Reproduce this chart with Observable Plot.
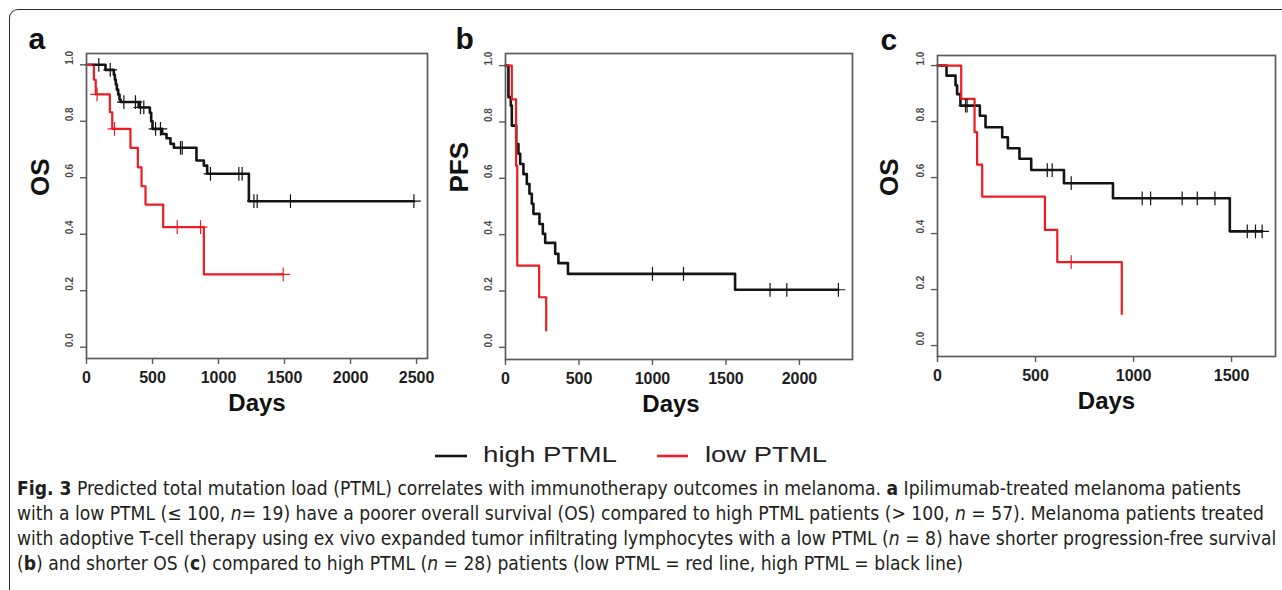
<!DOCTYPE html>
<html><head><meta charset="utf-8">
<script src="https://cdn.jsdelivr.net/npm/d3@7"></script>
<script src="https://cdn.jsdelivr.net/npm/@observablehq/plot@0.6"></script>
<style>
html,body{margin:0;padding:0;background:#fff;}
#root{position:relative;width:1282px;height:590px;overflow:hidden;font-family:"Liberation Sans",Arial,sans-serif;}
.panel{position:absolute;top:0;}
#border{position:absolute;left:9px;top:9px;width:1400px;height:700px;border-top:1.6px solid #2b2b2b;border-left:1.6px solid #2b2b2b;border-top-left-radius:9px;}
#legend,#caption{position:absolute;left:0;}
#caption text{white-space:pre;}
</style></head>
<body><div id="root"><div id="border"></div></div>
<script>
// ---------- data ----------
const yTicks = [0, 0.2, 0.4, 0.6, 0.8, 1.0];

// Panel a (ipilimumab, OS)
const aTicks = [0, 500, 1000, 1500, 2000, 2500];
const aHighT = [0, 144, 207, 215, 222, 230, 240, 250, 258, 396, 480, 490, 500, 573, 606, 636, 662, 833, 889, 914, 1230, 2480];
const aHighS = [1.0, 0.982, 0.965, 0.947, 0.93, 0.912, 0.895, 0.877, 0.868, 0.849, 0.83, 0.80, 0.773, 0.755, 0.74, 0.72, 0.706, 0.661, 0.643, 0.614, 0.517, 0.517];
const aHighCensT = [93, 180, 283, 371, 409, 434, 523, 560, 712, 725, 939, 1154, 1179, 1268, 1293, 1545, 2480];
const aHighCensS = [1.0, 0.982, 0.868, 0.868, 0.849, 0.849, 0.773, 0.773, 0.706, 0.706, 0.614, 0.614, 0.614, 0.517, 0.517, 0.517, 0.517];
const aLowT = [0, 56, 70, 177, 195, 333, 389, 417, 447, 581, 889, 1490];
const aLowS = [1.0, 0.947, 0.895, 0.832, 0.773, 0.706, 0.637, 0.57, 0.505, 0.425, 0.258, 0.258];
const aLowCensT = [80, 212, 687, 864, 1490];
const aLowCensS = [0.895, 0.773, 0.425, 0.425, 0.258];

// Panel b (TIL, PFS)
const bTicks = [0, 500, 1000, 1500, 2000];
const bHighT = [0, 20, 36, 43, 73, 88, 100, 122, 145, 163, 179, 190, 231, 254, 270, 338, 360, 425, 1562, 2265];
const bHighS = [1.0, 0.888, 0.858, 0.787, 0.722, 0.687, 0.651, 0.615, 0.58, 0.545, 0.51, 0.474, 0.438, 0.403, 0.371, 0.332, 0.299, 0.261, 0.2045, 0.2045];
const bHighCensT = [1000, 1211, 1800, 1914, 2265];
const bHighCensS = [0.261, 0.261, 0.2045, 0.2045, 0.2045];
const bLowT = [0, 43, 72, 80, 229, 277];
const bLowS = [1.0, 0.88, 0.645, 0.29, 0.178, 0.06];
const bLowCensT = [];
const bLowCensS = [];

// Panel c (TIL, OS)
const cTicks = [0, 500, 1000, 1500];
const cHighT = [0, 46, 92, 100, 117, 216, 245, 330, 359, 418, 478, 645, 895, 1491, 1656];
const cHighS = [1.0, 0.964, 0.93, 0.898, 0.857, 0.821, 0.78, 0.744, 0.705, 0.667, 0.627, 0.58, 0.526, 0.408, 0.408];
const cHighCensT = [143, 151, 560, 585, 682, 1044, 1087, 1248, 1325, 1415, 1580, 1622, 1656];
const cHighCensS = [0.857, 0.857, 0.627, 0.627, 0.58, 0.526, 0.526, 0.526, 0.526, 0.526, 0.408, 0.408, 0.408];
const cLowT = [0, 121, 189, 202, 228, 548, 611, 940];
const cLowS = [1.0, 0.881, 0.762, 0.646, 0.532, 0.413, 0.298, 0.113];
const cLowCensT = [682];
const cLowCensS = [0.298];

const legendLabels = ["high PTML", "low PTML"];
const captionLines = [
  [["Fig. 3", "b"], [" Predicted total mutation load (PTML) correlates with immunotherapy outcomes in melanoma. ", ""], ["a", "b"], [" Ipilimumab-treated melanoma patients", ""]],
  [["with a low PTML (\u2264 100, ", ""], ["n", "i"], ["= 19) have a poorer overall survival (OS) compared to high PTML patients (> 100, ", ""], ["n", "i"], [" = 57). Melanoma patients treated", ""]],
  [["with adoptive T-cell therapy using ex vivo expanded tumor infiltrating lymphocytes with a low PTML (", ""], ["n", "i"], [" = 8) have shorter progression-free survival", ""]],
  [["(", ""], ["b", "b"], [") and shorter OS (", ""], ["c", "b"], [") compared to high PTML (", ""], ["n", "i"], [" = 28) patients (low PTML = red line, high PTML = black line)", ""]]
];

const BLACK = "#141414", RED = "#ec1c24";
const zip = (T, S) => T.map((t, i) => ({t, s: S[i]}));

function panel(o) {
  const chart = Plot.plot({
    width: o.width, height: 420,
    marginLeft: o.ml, marginRight: o.mr, marginTop: o.mt, marginBottom: o.mb,
    x: {domain: [0, o.xMax]},
    y: {domain: [o.yMin, o.yMax]},
    style: {fontFamily: '"Liberation Sans", Arial, sans-serif', background: "transparent", color: "#1e1e1e", overflow: "visible"},
    marks: [
      Plot.line(o.high, {x: "t", y: "s", curve: "step-after", stroke: BLACK, strokeWidth: 2.6}),
      Plot.line(o.low, {x: "t", y: "s", curve: "step-after", stroke: RED, strokeWidth: 2.2}),
      Plot.dot(o.highC, {x: "t", y: "s", symbol: "plus", r: 4.5, stroke: BLACK, strokeWidth: 1.2}),
      Plot.dot(o.lowC, {x: "t", y: "s", symbol: "plus", r: 4.5, stroke: RED, strokeWidth: 1.2}),
      Plot.frame({stroke: "#5a5a5a", strokeWidth: 1.7}),
      Plot.axisX({ticks: o.xTicks, tickSize: 6, tickPadding: 7, tickFormat: d => String(d), fontSize: 16, fontWeight: "bold", label: null, stroke: "#5a5a5a", strokeWidth: 1.4}),
      Plot.axisY({ticks: yTicks, tickSize: 6, tickFormat: () => "", label: null, stroke: "#5a5a5a", strokeWidth: 1.4}),
      Plot.text(yTicks, {y: d => d, text: d => d.toFixed(1), frameAnchor: "left", dx: -17, rotate: -90, fontSize: 10, fontWeight: "bold", fill: "#4a4a4a"}),
      Plot.text([o.ylab], {text: d => d, frameAnchor: "left", dx: o.ylabDx, dy: o.ylabDy, rotate: -90, fontSize: 26, fontWeight: "bold", fill: "#111"}),
      Plot.text(["Days"], {text: d => d, frameAnchor: "bottom", dx: o.daysDx, dy: 45, lineAnchor: "middle", fontSize: 24, fontWeight: "bold", fill: "#111"}),
      Plot.text([o.letter], {text: d => d, frameAnchor: "top-left", textAnchor: "start", lineAnchor: "bottom", dx: o.letDx, dy: o.letDy, fontSize: 30, fontWeight: "bold", fill: "#111"})
    ]
  });
  const div = document.createElement("div");
  div.className = "panel";
  div.style.left = o.left + "px";
  div.appendChild(chart);
  document.getElementById("root").appendChild(div);
}

panel({left: 0, width: 440, ml: 86, mr: 13, mt: 53, mb: 62, xMax: 2583, yMin: -0.04, yMax: 1.04, xTicks: aTicks,
  high: zip(aHighT, aHighS), low: zip(aLowT, aLowS), highC: zip(aHighCensT, aHighCensS), lowC: zip(aLowCensT, aLowCensS),
  ylab: "OS", ylabDx: -46, ylabDy: -10, daysDx: 0, letter: "a", letDx: -58, letDy: -5});
panel({left: 430, width: 430, ml: 75, mr: 8, mt: 53, mb: 61, xMax: 2361, yMin: -0.043, yMax: 1.043, xTicks: bTicks,
  high: zip(bHighT, bHighS), low: zip(bLowT, bLowS), highC: zip(bHighCensT, bHighCensS), lowC: zip(bLowCensT, bLowCensS),
  ylab: "PFS", ylabDx: -46, ylabDy: -14, daysDx: -8, letter: "b", letDx: -50, letDy: -5});
panel({left: 860, width: 422, ml: 77, mr: 7, mt: 55, mb: 64, xMax: 1724, yMin: -0.039, yMax: 1.036, xTicks: cTicks,
  high: zip(cHighT, cHighS), low: zip(cLowT, cLowS), highC: zip(cHighCensT, cHighCensS), lowC: zip(cLowCensT, cLowCensS),
  ylab: "OS", ylabDx: -48, ylabDy: -10, daysDx: 0, letter: "c", letDx: -57, letDy: -6});

// ---------- legend ----------
const NS = "http://www.w3.org/2000/svg";
const root = document.getElementById("root");
const leg = document.createElementNS(NS, "svg");
leg.setAttribute("id", "legend"); leg.setAttribute("width", 1282); leg.setAttribute("height", 40);
leg.style.top = "436px";
const legItems = [
  {x1: 435, x2: 467, tx: 483, tw: 134, color: BLACK, label: legendLabels[0]},
  {x1: 657, x2: 688, tx: 705, tw: 122, color: RED, label: legendLabels[1]}
];
for (const it of legItems) {
  const ln = document.createElementNS(NS, "line");
  ln.setAttribute("x1", it.x1); ln.setAttribute("x2", it.x2); ln.setAttribute("y1", 20); ln.setAttribute("y2", 20);
  ln.setAttribute("stroke", it.color); ln.setAttribute("stroke-width", 2.6);
  leg.appendChild(ln);
  const tx = document.createElementNS(NS, "text");
  tx.setAttribute("x", it.tx); tx.setAttribute("y", 26);
  tx.setAttribute("font-family", '"Liberation Sans", Arial, sans-serif');
  tx.setAttribute("font-size", 22); tx.setAttribute("fill", "#222");
  tx.setAttribute("textLength", it.tw); tx.setAttribute("lengthAdjust", "spacingAndGlyphs");
  tx.textContent = it.label;
  leg.appendChild(tx);
}
root.appendChild(leg);

// ---------- caption ----------
const CAP_TOP = 470;
const cap = document.createElementNS(NS, "svg");
cap.setAttribute("id", "caption"); cap.setAttribute("width", 1282); cap.setAttribute("height", 120);
cap.style.top = CAP_TOP + "px";
root.appendChild(cap);
const baselines = [495, 520, 545, 570].map(b => b - CAP_TOP);
const FAM = '"Liberation Sans Narrow", "DejaVu Sans Condensed", "Liberation Sans", sans-serif';
const rows = captionLines.map((parts, i) => parts.map(([s, st]) => {
  const t = document.createElementNS(NS, "text");
  t.setAttributeNS("http://www.w3.org/XML/1998/namespace", "xml:space", "preserve");
  t.setAttribute("y", baselines[i]);
  t.setAttribute("font-family", FAM);
  t.setAttribute("font-size", 20); t.setAttribute("fill", "#231f20");
  if (st === "b") t.setAttribute("font-weight", "bold");
  if (st === "i") t.setAttribute("font-style", "italic");
  t.textContent = s;
  cap.appendChild(t);
  return t;
}));
// choose the font size so that the widest line spans the caption width
const w3 = d3.sum(rows[2], t => t.getComputedTextLength());
const fs = 20 * (1277 - 17) / w3;
rows.forEach(r => {
  r.forEach(t => t.setAttribute("font-size", fs));
  let x = 17;
  for (const t of r) {
    t.setAttribute("x", x);
    x += t.getComputedTextLength();
  }
});
</script>
</body></html>
